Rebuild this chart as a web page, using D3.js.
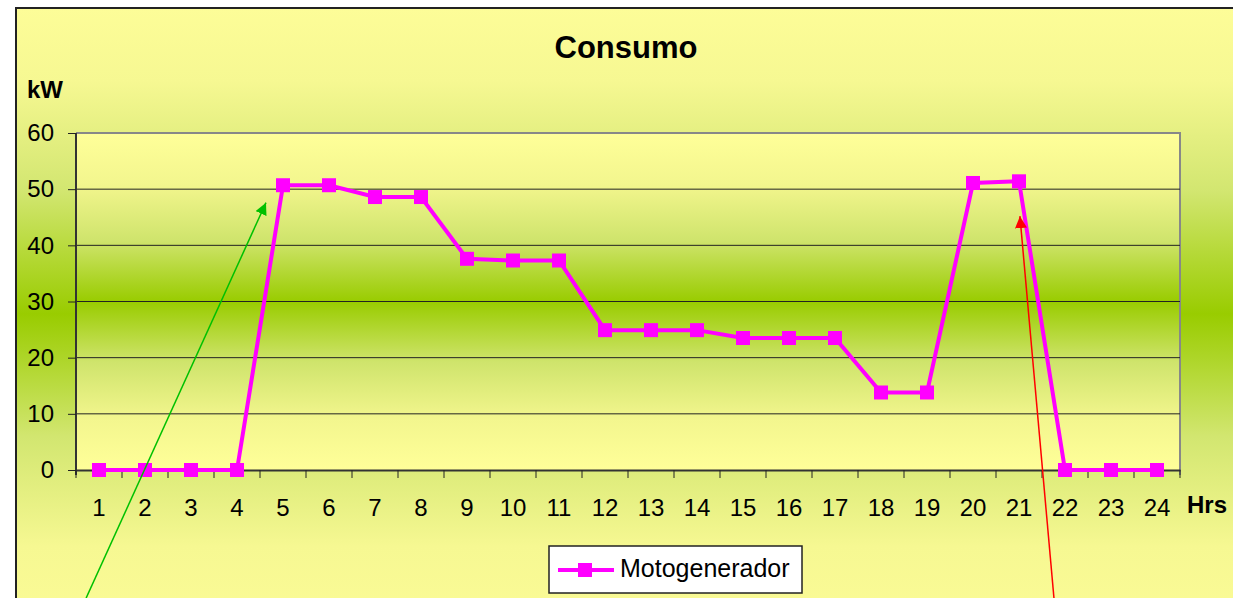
<!DOCTYPE html>
<html>
<head>
<meta charset="utf-8">
<script src="https://cdn.jsdelivr.net/npm/d3@7"></script>
<style>
  body { margin: 0; background: #fff; }
  text { font-family: "Liberation Sans", Arial, sans-serif; fill: #000; }
</style>
</head>
<body>
<div id="chart"></div>
<script>
// data
const hours = d3.range(1, 25).map(String);
const consumo = [0, 0, 0, 0, 50.7, 50.7, 48.6, 48.6, 37.6, 37.3, 37.3, 24.9,
                 24.9, 24.9, 23.5, 23.5, 23.5, 13.8, 13.8, 51.1, 51.4, 0, 0, 0];
const yTicks = [0, 10, 20, 30, 40, 50, 60];
const seriesName = "Motogenerador";

// arrows drawn on top (hour position, kW)
const arrows = [
  { color: "#00c000", from: [0.72, -22.8], to: [4.63, 47.6] },
  { color: "#ff0000", from: [21.76, -22.8], to: [21.02, 45.2] }
];

const W = 1233, H = 598;
const plot = { left: 76, right: 1180, top: 133, bottom: 470 };
const fs = "24px";

const svg = d3.select("#chart").append("svg")
  .attr("width", W).attr("height", H);

const defs = svg.append("defs");

function vGrad(id, y1, y2, stops) {
  const g = defs.append("linearGradient").attr("id", id)
    .attr("gradientUnits", "userSpaceOnUse")
    .attr("x1", 0).attr("x2", 0).attr("y1", y1).attr("y2", y2);
  stops.forEach(s => g.append("stop").attr("offset", s[0]).attr("stop-color", s[1]));
}

vGrad("outerBg", 8, 620, [[0, "#fdfd98"], [0.12, "#f6f892"], [0.3, "#d2e670"], [0.5, "#99cc00"], [0.7, "#d2e670"], [0.88, "#f6f892"], [1, "#fbfb96"]]);
vGrad("plotBg", plot.top, plot.bottom, [[0, "#ffff99"], [0.15, "#f3f68e"], [0.32, "#cfe46c"], [0.5, "#99cc00"], [0.68, "#cfe46c"], [0.85, "#f3f68e"], [1, "#ffff99"]]);

function head(id, color) {
  defs.append("marker").attr("id", id)
    .attr("viewBox", "0 0 10 10").attr("refX", 10).attr("refY", 5)
    .attr("markerWidth", 8).attr("markerHeight", 8).attr("orient", "auto")
    .append("path").attr("d", "M0,0L10,5L0,10Z").attr("fill", color);
}
head("headGreen", "#00c000");
head("headRed", "#ff0000");

// chart area
svg.append("rect")
  .attr("x", 16).attr("y", 8).attr("width", W + 10).attr("height", H + 10)
  .attr("fill", "url(#outerBg)").attr("stroke", "#222").attr("stroke-width", 2);

const x = d3.scaleBand().domain(hours).range([plot.left, plot.right]);
const xPos = d3.scaleLinear().domain([0.5, 24.5]).range([plot.left, plot.right]);
const y = d3.scaleLinear().domain([0, 60]).range([plot.bottom, plot.top]);

// plot area
svg.append("rect")
  .attr("x", plot.left).attr("y", plot.top)
  .attr("width", plot.right - plot.left).attr("height", plot.bottom - plot.top)
  .attr("fill", "url(#plotBg)");

svg.append("path")
  .attr("d", `M${plot.left},${plot.top}H${plot.right}V${plot.bottom + 5}`)
  .attr("fill", "none").attr("stroke", "#888").attr("stroke-width", 2);

// gridlines
svg.append("g").selectAll("line")
  .data(yTicks.filter(d => d > 0 && d < 60))
  .join("line")
  .attr("x1", plot.left).attr("x2", plot.right)
  .attr("y1", d => y(d)).attr("y2", d => y(d))
  .attr("stroke", "#222").attr("stroke-width", 1);

// y axis
const yAxis = svg.append("g")
  .attr("transform", `translate(${plot.left},0)`)
  .call(d3.axisLeft(y).tickValues(yTicks).tickSize(8).tickPadding(14));
yAxis.select(".domain").attr("stroke", "#333").attr("stroke-width", 2)
  .attr("d", `M0,${plot.top}V${plot.bottom + 5}`);
yAxis.selectAll(".tick line").attr("stroke", "#222");
yAxis.selectAll("text").style("font-size", fs).attr("fill", "#000");

// x axis, ticks at category boundaries
const xAxis = svg.append("g")
  .attr("transform", `translate(0,${plot.bottom})`)
  .call(d3.axisBottom(x).tickSize(0).tickPadding(29));
xAxis.select(".domain").attr("stroke", "#333").attr("stroke-width", 2);
xAxis.selectAll("text").style("font-size", fs).attr("fill", "#000");
xAxis.selectAll(".bound")
  .data(d3.range(0, hours.length + 1))
  .join("line")
  .attr("class", "bound")
  .attr("x1", i => plot.left + i * x.bandwidth())
  .attr("x2", i => plot.left + i * x.bandwidth())
  .attr("y1", 0).attr("y2", 8)
  .attr("stroke", "#222");

// series
const line = d3.line()
  .x((d, i) => x(hours[i]) + x.bandwidth() / 2)
  .y(d => y(d));

svg.append("path")
  .datum(consumo)
  .attr("d", line)
  .attr("fill", "none").attr("stroke", "#ff00ff").attr("stroke-width", 4)
  .attr("stroke-linejoin", "miter");

const ms = 14;
svg.append("g").selectAll("rect")
  .data(consumo)
  .join("rect")
  .attr("x", (d, i) => x(hours[i]) + x.bandwidth() / 2 - ms / 2)
  .attr("y", d => y(d) - ms / 2)
  .attr("width", ms).attr("height", ms)
  .attr("fill", "#ff00ff");

// titles
svg.append("text")
  .attr("x", 626).attr("y", 58)
  .attr("text-anchor", "middle")
  .style("font-size", "31px").style("font-weight", "bold")
  .text("Consumo");

svg.append("text")
  .attr("x", 27).attr("y", 98)
  .style("font-size", fs).style("font-weight", "bold")
  .text("kW");

svg.append("text")
  .attr("x", 1187).attr("y", 513)
  .style("font-size", fs).style("font-weight", "bold")
  .text("Hrs");

// legend
const lg = svg.append("g").attr("transform", "translate(549,546)");
lg.append("rect").attr("width", 253).attr("height", 47)
  .attr("fill", "#fff").attr("stroke", "#222").attr("stroke-width", 1.5);
lg.append("line").attr("x1", 9).attr("x2", 65).attr("y1", 24).attr("y2", 24)
  .attr("stroke", "#ff00ff").attr("stroke-width", 4);
lg.append("rect").attr("x", 36 - ms / 2).attr("y", 24 - ms / 2)
  .attr("width", ms).attr("height", ms).attr("fill", "#ff00ff");
lg.append("text").attr("x", 71).attr("y", 31)
  .style("font-size", "25px").text(seriesName);

// arrows
svg.append("g").selectAll("line")
  .data(arrows)
  .join("line")
  .attr("x1", d => xPos(d.from[0])).attr("y1", d => y(d.from[1]))
  .attr("x2", d => xPos(d.to[0])).attr("y2", d => y(d.to[1]))
  .attr("stroke", d => d.color).attr("stroke-width", 1.5)
  .attr("marker-end", d => d.color === "#ff0000" ? "url(#headRed)" : "url(#headGreen)");
</script>
</body>
</html>
